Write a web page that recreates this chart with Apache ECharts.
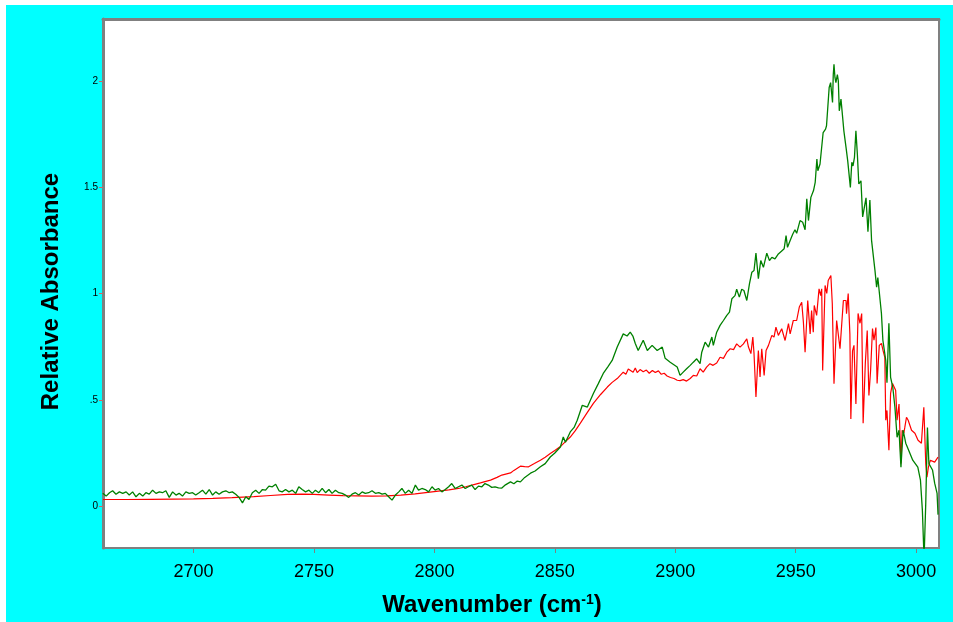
<!DOCTYPE html>
<html>
<head>
<meta charset="utf-8">
<script src="https://cdn.jsdelivr.net/npm/echarts@6/dist/echarts.min.js"></script>
<style>
  html, body { margin: 0; padding: 0; background: #ffffff; }
  #chart { position: absolute; left: 6px; top: 5px; width: 947px; height: 617px; }
</style>
</head>
<body>
<div id="chart"></div>
<script>
// Axis ranges and tick labels
const xMin = 2662.4, xMax = 3009.5;
const yMin = -0.197, yMax = 2.291;
const xTicks = [2700, 2750, 2800, 2850, 2900, 2950, 3000];
const yTicks = [0, 0.5, 1, 1.5, 2];

// Green spectrum (wavenumber, relative absorbance)
const greenWn = [
  2662.3, 2663.7, 2665.1, 2666.4, 2667.8, 2669.2, 2670.6, 2672.0, 2673.3, 2674.7,
  2676.1, 2677.5, 2678.9, 2680.2, 2681.6, 2683.0, 2684.4, 2685.8, 2687.1, 2688.5,
  2689.9, 2691.3, 2692.7, 2694.0, 2695.4, 2696.8, 2698.2, 2699.6, 2700.9, 2702.3,
  2703.7, 2705.1, 2706.5, 2707.9, 2709.2, 2710.6, 2712.0, 2713.4, 2714.8, 2716.1,
  2717.5, 2718.9, 2720.3, 2721.7, 2723.0, 2724.4, 2725.8, 2727.2, 2728.6, 2729.9,
  2731.3, 2732.7, 2734.1, 2735.5, 2736.8, 2738.2, 2739.6, 2741.0, 2742.4, 2743.7,
  2745.1, 2746.5, 2747.9, 2749.3, 2750.6, 2752.0, 2753.4, 2754.8, 2756.2, 2757.5,
  2758.9, 2760.3, 2761.7, 2763.1, 2764.4, 2765.8, 2767.2, 2768.6, 2770.0, 2771.3,
  2772.7, 2774.1, 2775.5, 2776.9, 2778.3, 2779.6, 2781.0, 2782.4, 2783.8, 2785.2,
  2786.5, 2787.9, 2789.3, 2790.7, 2792.1, 2793.4, 2794.8, 2796.2, 2797.6, 2799.0,
  2800.3, 2801.7, 2803.1, 2804.5, 2805.9, 2807.2, 2808.6, 2810.0, 2811.4, 2812.8,
  2814.1, 2815.5, 2816.9, 2818.3, 2819.7, 2821.0, 2822.4, 2823.8, 2825.2, 2826.6,
  2828.0, 2829.5, 2831.6, 2833.0, 2834.4, 2835.7, 2837.5, 2839.9, 2841.8, 2844.0,
  2846.0, 2848.1, 2850.0, 2852.3, 2853.5, 2854.4, 2856.4, 2858.0, 2859.3, 2861.4,
  2863.5, 2866.0, 2868.0, 2870.1, 2872.0, 2873.8, 2875.9, 2878.4, 2880.0, 2881.3,
  2882.4, 2883.4, 2884.6, 2886.7, 2888.4, 2890.4, 2892.5, 2894.6, 2895.8, 2897.9,
  2900.8, 2902.0, 2903.3, 2904.7, 2906.2, 2907.5, 2908.9, 2910.3, 2911.0, 2912.4,
  2913.8, 2915.2, 2915.8, 2917.2, 2918.6, 2920.0, 2921.4, 2922.5, 2923.5, 2924.8,
  2925.5, 2926.6, 2927.6, 2928.5, 2929.7, 2930.8, 2931.8, 2932.7, 2933.5, 2934.5,
  2935.5, 2936.6, 2938.0, 2939.1, 2940.1, 2941.4, 2942.8, 2944.2, 2945.2, 2946.0,
  2946.6, 2947.7, 2948.8, 2949.7, 2950.4, 2951.8, 2952.9, 2953.9, 2954.6, 2955.3,
  2956.3, 2957.4, 2958.1, 2958.8, 2959.2, 2960.1, 2960.8, 2961.4, 2962.4, 2962.8,
  2963.9, 2964.5, 2964.9, 2965.3, 2965.6, 2965.9, 2966.3, 2966.7, 2967.3, 2967.7,
  2968.1, 2968.8, 2969.5, 2970.0, 2970.9, 2971.6, 2972.1, 2972.7, 2973.3, 2973.8,
  2974.4, 2975.0, 2975.6, 2976.2, 2977.1, 2977.8, 2979.2, 2980.0, 2980.8, 2981.5,
  2982.9, 2983.6, 2984.1, 2985.6, 2986.2, 2987.4, 2987.9, 2988.7, 2989.4, 2990.3,
  2991.2, 2992.1, 2992.9, 2993.7, 2994.6, 2995.7, 2996.9, 2998.6, 3000.7, 3001.8,
  3002.6, 3003.3, 3004.0, 3004.7, 3005.3, 3006.8, 3007.7, 3008.7, 3009.1
];
const greenAbs = [
  0.060, 0.047, 0.063, 0.072, 0.056, 0.067, 0.060, 0.067, 0.052, 0.067,
  0.044, 0.060, 0.047, 0.063, 0.056, 0.075, 0.060, 0.067, 0.063, 0.072,
  0.041, 0.067, 0.052, 0.060, 0.047, 0.067, 0.060, 0.063, 0.052, 0.063,
  0.075, 0.056, 0.078, 0.052, 0.067, 0.056, 0.067, 0.072, 0.063, 0.067,
  0.056, 0.041, 0.015, 0.044, 0.031, 0.063, 0.075, 0.060, 0.078, 0.075,
  0.094, 0.091, 0.103, 0.072, 0.067, 0.078, 0.067, 0.075, 0.060, 0.091,
  0.078, 0.067, 0.075, 0.060, 0.075, 0.063, 0.083, 0.063, 0.078, 0.060,
  0.075, 0.063, 0.060, 0.052, 0.041, 0.056, 0.063, 0.052, 0.067, 0.060,
  0.063, 0.072, 0.060, 0.063, 0.056, 0.060, 0.044, 0.028, 0.052, 0.067,
  0.083, 0.060, 0.075, 0.060, 0.099, 0.075, 0.083, 0.078, 0.067, 0.091,
  0.075, 0.083, 0.067, 0.078, 0.091, 0.106, 0.083, 0.091, 0.099, 0.083,
  0.091, 0.099, 0.078, 0.094, 0.091, 0.106, 0.099, 0.088, 0.091, 0.086,
  0.085, 0.100, 0.114, 0.105, 0.118, 0.114, 0.135, 0.155, 0.165, 0.185,
  0.200, 0.231, 0.250, 0.278, 0.325, 0.300, 0.349, 0.370, 0.404, 0.474,
  0.466, 0.530, 0.575, 0.624, 0.655, 0.685, 0.748, 0.810, 0.800, 0.818,
  0.800, 0.765, 0.732, 0.780, 0.732, 0.756, 0.732, 0.748, 0.695, 0.677,
  0.654, 0.615, 0.630, 0.646, 0.662, 0.677, 0.693, 0.670, 0.724, 0.771,
  0.748, 0.795, 0.756, 0.818, 0.850, 0.873, 0.897, 0.912, 0.975, 0.990,
  1.020, 0.983, 1.020, 1.014, 0.967, 1.045, 1.100, 1.108, 1.190, 1.070,
  1.155, 1.123, 1.190, 1.155, 1.170, 1.163, 1.186, 1.200, 1.210, 1.272,
  1.217, 1.249, 1.280, 1.300, 1.283, 1.343, 1.335, 1.300, 1.445, 1.343,
  1.452, 1.484, 1.523, 1.632, 1.577, 1.609, 1.617, 1.757, 1.773, 1.789,
  1.969, 1.992, 2.000, 1.898, 2.030, 2.078, 2.016, 1.992, 2.030, 2.000,
  1.859, 1.914, 1.828, 1.765, 1.687, 1.624, 1.617, 1.499, 1.617, 1.600,
  1.640, 1.765, 1.656, 1.515, 1.530, 1.360, 1.450, 1.290, 1.440, 1.250,
  1.110, 1.030, 1.075, 0.906, 0.780, 0.685, 0.580, 0.860, 0.606, 0.560,
  0.465, 0.324, 0.357, 0.183, 0.357, 0.296, 0.263, 0.216, 0.183, 0.122,
  -0.020, -0.250, 0.014, 0.370, 0.200, 0.170, 0.108, 0.060, -0.040
];

// Red spectrum (wavenumber, relative absorbance)
const redWn = [
  2662.4, 2672.0, 2682.0, 2692.0, 2700.0, 2708.0, 2716.0, 2725.0, 2732.0, 2739.0,
  2745.0, 2750.0, 2756.0, 2762.0, 2768.0, 2774.0, 2780.0, 2786.0, 2792.0, 2799.0,
  2806.0, 2810.0, 2813.0, 2816.0, 2819.1, 2821.0, 2823.3, 2826.0, 2828.0, 2830.0,
  2831.6, 2833.0, 2835.7, 2837.5, 2839.1, 2841.5, 2844.0, 2846.0, 2848.1, 2850.0,
  2852.3, 2854.4, 2856.4, 2858.5, 2860.6, 2863.3, 2866.0, 2869.0, 2871.8, 2873.8,
  2875.9, 2878.4, 2879.5, 2880.5, 2881.3, 2882.5, 2883.4, 2884.2, 2885.4, 2886.7,
  2888.0, 2889.2, 2890.5, 2891.7, 2893.0, 2894.2, 2895.4, 2896.6, 2898.0, 2899.5,
  2900.8, 2902.0, 2903.3, 2904.7, 2906.2, 2907.5, 2908.9, 2910.3, 2911.6, 2913.0,
  2914.4, 2915.7, 2917.2, 2918.6, 2920.0, 2921.4, 2922.8, 2924.2, 2925.5, 2926.9,
  2928.3, 2929.7, 2930.4, 2931.4, 2932.2, 2932.7, 2933.5, 2934.5, 2935.2, 2935.9,
  2936.9, 2937.7, 2938.7, 2940.1, 2941.0, 2941.8, 2942.8, 2943.5, 2944.2, 2945.6,
  2947.0, 2947.7, 2949.0, 2950.4, 2951.5, 2952.5, 2953.2, 2953.9, 2955.0, 2956.0,
  2956.6, 2957.3, 2957.7, 2958.7, 2959.7, 2960.4, 2960.8, 2961.2, 2962.2, 2962.9,
  2963.5, 2964.2, 2964.6, 2965.2, 2965.9, 2967.0, 2967.7, 2968.4, 2969.8, 2970.9,
  2971.1, 2971.8, 2972.5, 2972.9, 2973.6, 2974.2, 2975.0, 2975.9, 2976.7, 2977.4,
  2978.0, 2978.9, 2979.7, 2980.4, 2981.1, 2981.9, 2982.5, 2983.3, 2983.8, 2984.7,
  2985.6, 2986.3, 2987.0, 2987.4, 2987.9, 2988.7, 2989.4, 2990.2, 2990.9, 2991.5,
  2992.1, 2992.9, 2993.7, 2994.2, 2994.9, 2995.3, 2996.0, 2996.7, 2998.1, 2999.5,
  3000.8, 3002.2, 3003.2, 3004.0, 3004.5, 3005.1, 3005.9, 3007.7, 3009.1
];
const redAbs = [
  0.031, 0.031, 0.032, 0.033, 0.034, 0.036, 0.040, 0.045, 0.050, 0.055,
  0.056, 0.055, 0.052, 0.049, 0.048, 0.047, 0.048, 0.052, 0.058, 0.067,
  0.076, 0.083, 0.091, 0.100, 0.109, 0.115, 0.122, 0.135, 0.146, 0.152,
  0.156, 0.168, 0.188, 0.186, 0.185, 0.200, 0.216, 0.230, 0.247, 0.262,
  0.280, 0.303, 0.325, 0.355, 0.390, 0.437, 0.483, 0.525, 0.560, 0.582,
  0.600, 0.630, 0.620, 0.645, 0.654, 0.630, 0.650, 0.628, 0.642, 0.632,
  0.640, 0.625, 0.638, 0.628, 0.636, 0.620, 0.625, 0.612, 0.605, 0.600,
  0.592, 0.590, 0.595, 0.588, 0.600, 0.615, 0.612, 0.646, 0.630, 0.654,
  0.670, 0.662, 0.673, 0.700, 0.695, 0.724, 0.740, 0.736, 0.763, 0.748,
  0.763, 0.787, 0.748, 0.717, 0.795, 0.717, 0.513, 0.732, 0.607, 0.740,
  0.615, 0.732, 0.756, 0.803, 0.795, 0.842, 0.803, 0.803, 0.834, 0.779,
  0.858, 0.810, 0.873, 0.873, 0.936, 0.959, 0.865, 0.724, 0.967, 0.810,
  0.920, 0.818, 0.944, 0.897, 1.022, 0.990, 1.022, 0.638, 1.038, 1.000,
  1.061, 1.053, 1.085, 0.952, 0.576, 0.873, 0.865, 0.740, 0.967, 0.967,
  0.905, 1.000, 0.810, 0.410, 0.730, 0.756, 0.480, 0.906, 0.860, 0.906,
  0.390, 0.670, 0.826, 0.520, 0.638, 0.835, 0.780, 0.840, 0.577, 0.756,
  0.765, 0.730, 0.700, 0.404, 0.450, 0.263, 0.530, 0.577, 0.582, 0.545,
  0.404, 0.480, 0.200, 0.357, 0.343, 0.370, 0.418, 0.404, 0.357, 0.343,
  0.310, 0.296, 0.465, 0.200, 0.136, 0.183, 0.216, 0.207, 0.230
];

const font = 'Arial, "Liberation Sans", sans-serif';
const frameColor = '#808080';

function pairs(xs, ys) {
    const n = Math.min(xs.length, ys.length);
    const out = [];
    for (let i = 0; i < n; i++) out.push([xs[i], ys[i]]);
    return out;
}

let myChart = echarts.init(document.getElementById('chart'));
let chartOptions = {
    animation: false,
    backgroundColor: '#00ffff',
    grid: {
        left: 97, top: 14, right: 14, bottom: 74,
        show: true, backgroundColor: '#ffffff',
        borderColor: frameColor, borderWidth: 2
    },
    xAxis: [{
        type: 'value', min: xMin, max: xMax, position: 'bottom',
        axisLine: { onZero: false, lineStyle: { color: frameColor, width: 2 } },
        axisTick: { customValues: xTicks, length: 5, lineStyle: { color: frameColor } },
        axisLabel: {
            customValues: xTicks, fontSize: 18, color: '#000', margin: 15, fontFamily: font,
            formatter: v => String(v)
        },
        splitLine: { show: false },
        name: '{t|Wavenumber (cm}{s|-1}{t|)}',
        nameLocation: 'middle',
        nameGap: 45,
        nameTextStyle: {
            padding: [0, 58, 0, 0],
            rich: {
                t: { fontSize: 24, fontWeight: 'bold', fontFamily: font, color: '#000', lineHeight: 24, verticalAlign: 'bottom' },
                s: { fontSize: 14, fontWeight: 'bold', fontFamily: font, color: '#000', lineHeight: 14, verticalAlign: 'top' }
            }
        }
    }, {
        type: 'value', min: xMin, max: xMax, position: 'top',
        axisLine: { onZero: false, lineStyle: { color: frameColor, width: 3 } },
        axisTick: { show: false },
        axisLabel: { show: false },
        splitLine: { show: false }
    }],
    yAxis: {
        type: 'value', min: yMin, max: yMax,
        axisLine: { show: true, onZero: false, lineStyle: { color: frameColor, width: 3 } },
        axisTick: { show: true, customValues: yTicks, length: 4, lineStyle: { color: '#cc6666' } },
        axisLabel: {
            customValues: yTicks, fontSize: 10, color: '#000', margin: 5, fontFamily: font,
            formatter: v => (v === 0.5 ? '.5' : String(v))
        },
        splitLine: { show: false },
        name: 'Relative Absorbance',
        nameLocation: 'middle',
        nameGap: 40,
        nameTextStyle: {
            fontSize: 24, fontWeight: 'bold', fontFamily: font, color: '#000',
            padding: [0, 16, 0, 0]
        }
    },
    series: [{
        name: 'red',
        type: 'line',
        showSymbol: false,
        color: '#ff0000',
        lineStyle: { width: 1.2, color: '#ff0000' },
        data: pairs(redWn, redAbs)
    }, {
        name: 'green',
        type: 'line',
        showSymbol: false,
        color: '#008000',
        lineStyle: { width: 1.3, color: '#008000' },
        data: pairs(greenWn, greenAbs)
    }]
};
myChart.setOption(chartOptions);
</script>
</body>
</html>
